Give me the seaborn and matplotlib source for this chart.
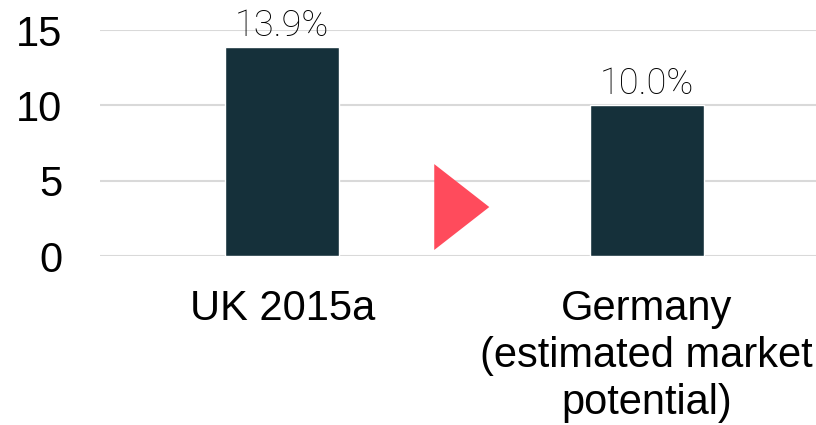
import matplotlib
matplotlib.use("Agg")
import matplotlib.pyplot as plt
import seaborn as sns
import pandas as pd

categories = ["UK 2015a", "Germany\n(estimated market\npotential)"]
values = [13.9, 10.0]
value_labels = ["13.9%", "10.0%"]
yticks = [0, 5, 10, 15]

sns.set_theme(style="white")
plt.rcParams['font.family'] = ['Liberation Sans', 'DejaVu Sans']

fig = plt.figure(figsize=(8.16, 4.25), dpi=100)
ax = fig.add_axes([100/816, 1 - 256/425, 729/816, 226/425])

df = pd.DataFrame({"cat": categories, "val": values})
sns.barplot(data=df, x="cat", y="val", color="#15303A", width=0.313, ax=ax, saturation=1)

ax.set_xlim(-0.5, 1.5)
ax.set_ylim(0, 15)
ax.set_yticks(yticks)
ax.set_yticklabels([str(t) for t in yticks])
ax.yaxis.grid(True, color="#D9D9D9", linewidth=1.5)
ax.set_axisbelow(True)
for s in ax.spines.values():
    s.set_visible(False)
ax.tick_params(axis="y", length=0, pad=27, labelsize=30, labelcolor="black")
ax.tick_params(axis="x", length=0, pad=24, labelsize=30, labelcolor="black")
for lbl in ax.get_xticklabels():
    lbl.set_linespacing(1.22)
ax.set_xlabel("")
ax.set_ylabel("")

for i, (v, t) in enumerate(zip(values, value_labels)):
    ax.text(i, v + 0.2, t, ha="center", va="bottom", fontsize=26,
            family=["Roboto", "DejaVu Sans"], fontweight="light",
            fontstretch="condensed", color="#000000")

# arrow triangle
ax.fill([0.417, 0.417, 0.568], [0.4, 6.1, 3.25], color="#FF4B5C", lw=0, clip_on=False)

fig.savefig("out.png", dpi=100)
